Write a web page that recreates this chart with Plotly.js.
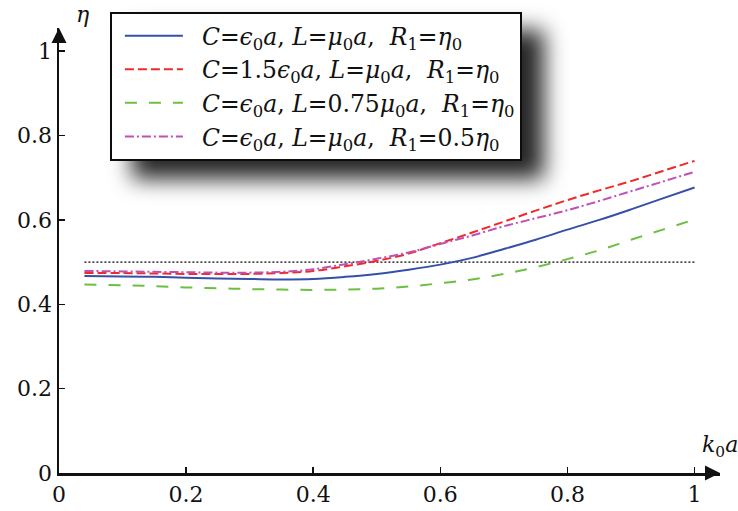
<!DOCTYPE html>
<html>
<head>
<meta charset="utf-8">
<script src="https://cdn.plot.ly/plotly-3.0.1.min.js"></script>
<style>
html,body{margin:0;padding:0;background:#fff;}
#plot{width:738px;height:511px;}
</style>
</head>
<body>
<div id="plot"></div>
<script>
// ---- data ----
const xVals = [0.04, 0.1, 0.15, 0.2, 0.25, 0.3, 0.35, 0.4, 0.45, 0.5, 0.55, 0.6, 0.65, 0.7, 0.75, 0.8, 0.85, 0.9, 0.95, 1.0];
const etaBlue    = [0.467, 0.466, 0.465, 0.463, 0.461, 0.460, 0.459, 0.460, 0.465, 0.472, 0.482, 0.494, 0.510, 0.531, 0.553, 0.577, 0.600, 0.625, 0.651, 0.677];
const etaRed     = [0.474, 0.474, 0.473, 0.472, 0.472, 0.472, 0.474, 0.479, 0.490, 0.503, 0.520, 0.545, 0.570, 0.596, 0.622, 0.647, 0.670, 0.692, 0.716, 0.740];
const etaGreen   = [0.447, 0.445, 0.443, 0.440, 0.438, 0.436, 0.435, 0.434, 0.435, 0.437, 0.442, 0.450, 0.459, 0.472, 0.488, 0.507, 0.528, 0.553, 0.577, 0.601];
const etaMagenta = [0.479, 0.478, 0.477, 0.476, 0.475, 0.475, 0.477, 0.483, 0.495, 0.508, 0.523, 0.543, 0.563, 0.585, 0.604, 0.623, 0.645, 0.668, 0.691, 0.714];
const refX = [0.04, 1.0];
const refY = [0.5, 0.5];
const seriesNames = [
  '<i>C</i>=<i>ϵ</i><sub>0</sub><i>a</i>, <i>L</i>=<i>μ</i><sub>0</sub><i>a</i>,  <i>R</i><sub>1</sub>=<i>η</i><sub>0</sub>',
  '<i>C</i>=1.5<i>ϵ</i><sub>0</sub><i>a</i>, <i>L</i>=<i>μ</i><sub>0</sub><i>a</i>,  <i>R</i><sub>1</sub>=<i>η</i><sub>0</sub>',
  '<i>C</i>=<i>ϵ</i><sub>0</sub><i>a</i>, <i>L</i>=0.75<i>μ</i><sub>0</sub><i>a</i>,  <i>R</i><sub>1</sub>=<i>η</i><sub>0</sub>',
  '<i>C</i>=<i>ϵ</i><sub>0</sub><i>a</i>, <i>L</i>=<i>μ</i><sub>0</sub><i>a</i>,  <i>R</i><sub>1</sub>=0.5<i>η</i><sub>0</sub>'
];
const xTicks = [0, 0.2, 0.4, 0.6, 0.8, 1];
const yTicks = [0, 0.2, 0.4, 0.6, 0.8, 1];

const FONT = 'DejaVu Serif';

const traces = [
  {x: refX, y: refY, mode: 'lines', showlegend: false, hoverinfo: 'skip',
   line: {color: '#000', width: 1.2, dash: '2px,2px'}},
  {x: xVals, y: etaBlue, mode: 'lines', name: seriesNames[0],
   line: {color: '#3450a8', width: 2, shape: 'spline'}},
  {x: xVals, y: etaRed, mode: 'lines', name: seriesNames[1],
   line: {color: '#f02a2a', width: 2, dash: '9px,4px', shape: 'spline'}},
  {x: xVals, y: etaGreen, mode: 'lines', name: seriesNames[2],
   line: {color: '#6cbf40', width: 2, dash: '12px,12px', shape: 'spline'}},
  {x: xVals, y: etaMagenta, mode: 'lines', name: seriesNames[3],
   line: {color: '#c050b4', width: 2, dash: '9px,3px,2px,3px', shape: 'spline'}}
];

const layout = {
  width: 738, height: 511,
  margin: {l: 59, r: 18, t: 28, b: 38, pad: 0},
  paper_bgcolor: '#fff', plot_bgcolor: '#fff',
  font: {family: FONT, size: 22, color: '#111'},
  showlegend: true,
  legend: {
    x: 0.077, y: 1.036, xanchor: 'left', yanchor: 'top',
    bgcolor: '#fff', bordercolor: '#111', borderwidth: 2,
    font: {family: FONT, size: 23.5, color: '#111'},
    tracegroupgap: 0, itemwidth: 80
  },
  xaxis: {
    range: [0, 1.04], tickvals: xTicks, ticktext: xTicks.map(String),
    showgrid: false, zeroline: false, showline: true, linecolor: '#111', linewidth: 2.5,
    ticks: 'inside', ticklen: 6, tickwidth: 1.5, tickcolor: '#111',
    tickfont: {family: FONT, size: 22, color: '#111'}
  },
  yaxis: {
    range: [0, 1.055], tickvals: yTicks, ticktext: yTicks.map(String),
    showgrid: false, zeroline: false, showline: true, linecolor: '#111', linewidth: 2.5,
    ticks: 'inside', ticklen: 6, tickwidth: 1.5, tickcolor: '#111',
    tickfont: {family: FONT, size: 22, color: '#111'}
  },
  annotations: [
    {xref: 'paper', yref: 'paper', x: 1.0, y: 0, ax: -16, ay: 0, text: '', showarrow: true,
     arrowhead: 2, arrowsize: 1.2, arrowwidth: 2.5, arrowcolor: '#111'},
    {xref: 'paper', yref: 'paper', x: 0, y: 1.0, ax: 0, ay: 16, text: '', showarrow: true,
     arrowhead: 2, arrowsize: 1.2, arrowwidth: 2.5, arrowcolor: '#111'},
    {xref: 'paper', yref: 'paper', x: 0.022, y: 1.03, xanchor: 'left', yanchor: 'middle',
     text: '<i>η</i>', showarrow: false, font: {family: FONT, size: 22, color: '#111'}},
    {xref: 'paper', yref: 'paper', x: 1.03, y: 0.06, xanchor: 'right', yanchor: 'middle',
     text: '<i>k</i><sub>0</sub><i>a</i>', showarrow: false, font: {family: FONT, size: 22, color: '#111'}}
  ]
};

Plotly.newPlot('plot', traces, layout, {displayModeBar: false, staticPlot: true}).then(function(gd){
  const svg = gd.querySelector('svg.main-svg');
  const ns = 'http://www.w3.org/2000/svg';
  let defs = svg.querySelector('defs');
  if (!defs) { defs = document.createElementNS(ns, 'defs'); svg.insertBefore(defs, svg.firstChild); }
  const f = document.createElementNS(ns, 'filter');
  f.setAttribute('id', 'lgshadow');
  f.setAttribute('x', '-20%'); f.setAttribute('y', '-30%');
  f.setAttribute('width', '160%'); f.setAttribute('height', '180%');
  const ds = document.createElementNS(ns, 'feDropShadow');
  ds.setAttribute('dx', '22'); ds.setAttribute('dy', '18');
  ds.setAttribute('stdDeviation', '11');
  ds.setAttribute('flood-color', '#000'); ds.setAttribute('flood-opacity', '0.85');
  f.appendChild(ds); defs.appendChild(f);
  const bg = gd.querySelector('.legend .bg');
  if (bg) bg.setAttribute('filter', 'url(#lgshadow)');
  gd.querySelectorAll('.legend .legendlines path').forEach(function(p){
    p.setAttribute('d', 'M13,0h58');
  });
});
</script>
</body>
</html>
